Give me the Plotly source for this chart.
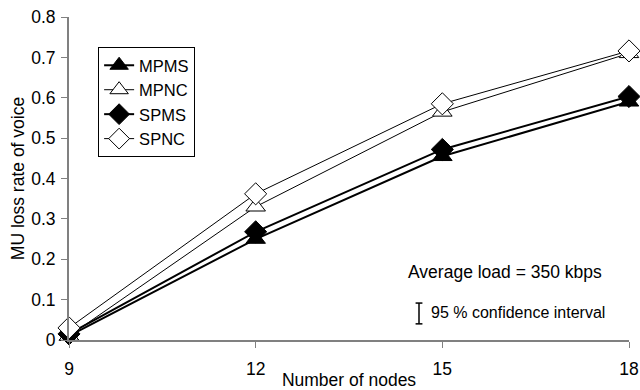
import plotly.graph_objects as go

nodes = [9, 12, 15, 18]
mpms = [0.01, 0.25, 0.455, 0.59]
mpnc = [0.01, 0.33, 0.565, 0.71]
spms = [0.015, 0.268, 0.472, 0.603]
spnc = [0.03, 0.362, 0.585, 0.716]
yticks = [0, 0.1, 0.2, 0.3, 0.4, 0.5, 0.6, 0.7, 0.8]
ytick_text = ["0", "0.1", "0.2", "0.3", "0.4", "0.5", "0.6", "0.7", "0.8"]

series = [
    ("MPMS", mpms, "triangle-up", "black", 2),
    ("MPNC", mpnc, "triangle-up", "white", 1),
    ("SPMS", spms, "diamond", "black", 2),
    ("SPNC", spnc, "diamond", "white", 1),
]

fig = go.Figure()
for name, vals, sym, fill, w in series:
    fig.add_trace(go.Scatter(
        x=nodes, y=vals, name=name, mode="lines+markers", cliponaxis=False,
        line=dict(color="black", width=w),
        marker=dict(symbol=sym, size=17, color=fill,
                    line=dict(color="black", width=1)),
    ))

FONT = "Liberation Sans, Arial, sans-serif"
FS = 17.5
fig.update_layout(
    width=640, height=390,
    margin=dict(l=69, r=11, t=17, b=50),
    paper_bgcolor="white", plot_bgcolor="white",
    font=dict(family=FONT, size=FS, color="black"),
    showlegend=True,
    legend=dict(x=0.052, y=0.907, xanchor="left", yanchor="top",
                bordercolor="black", borderwidth=1, bgcolor="white",
                font=dict(size=16.5), tracegroupgap=0, itemwidth=30),
    xaxis=dict(range=[9, 18], tickvals=nodes, showgrid=False, zeroline=False,
               showline=True, linecolor="#808080", linewidth=2,
               ticks="outside", ticklen=6, tickcolor="#808080", ticklabelstandoff=6,
               title=dict(text="Number of nodes", standoff=0, font=dict(size=FS))),
    yaxis=dict(range=[0, 0.8], tickvals=yticks, ticktext=ytick_text, showgrid=False,
               zeroline=False, showline=True, linecolor="#808080", linewidth=2,
               ticks="outside", ticklen=6, tickcolor="#808080", ticklabelstandoff=2,
               title=dict(text="MU loss rate of voice", standoff=2, font=dict(size=FS))),
)
fig.update_xaxes(automargin=False)
fig.update_yaxes(automargin=False)

fig.add_annotation(x=16.0, y=0.168, xref="x", yref="y", text="Average load = 350 kbps",
                   showarrow=False, font=dict(size=FS))
fig.add_annotation(x=14.78, y=0.068, xref="x", yref="y", text="95 % confidence interval",
                   showarrow=False, xanchor="left", font=dict(size=16))
fig.add_shape(type="line", x0=14.625, x1=14.625, y0=0.040, y1=0.0915, xref="x", yref="y",
              line=dict(color="black", width=1.5))
fig.add_shape(type="line", x0=14.57, x1=14.68, y0=0.0915, y1=0.0915, xref="x", yref="y",
              line=dict(color="black", width=1.5))
fig.add_shape(type="line", x0=14.57, x1=14.68, y0=0.040, y1=0.040, xref="x", yref="y",
              line=dict(color="black", width=1.5))

fig.write_html("out.html")
